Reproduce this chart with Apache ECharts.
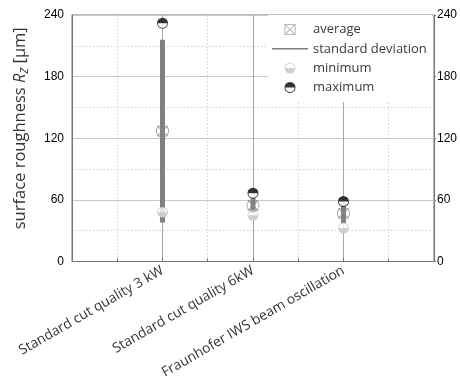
<!DOCTYPE html>
<html><head><meta charset="utf-8">
<script src="https://cdn.jsdelivr.net/npm/echarts@6/dist/echarts.min.js"></script>
<style>html,body{margin:0;padding:0;background:#fff}#c{width:460px;height:386px}</style>
</head><body><div id="c"></div>
<script>
const categories = ['Standard cut quality 3 kW', 'Standard cut quality 6kW', 'Fraunhofer IWS beam oscillation'];
const categoryPos = [2, 4, 6];
const averageVals = [127, 54.5, 47];
const stdDevVals = [89, 7, 10];
const minimumVals = [48, 45, 32.5];
const maximumVals = [232, 66.5, 58.5];
const yTicks = [0, 60, 120, 180, 240];

const FONT = '"Open Sans", "Noto Sans", sans-serif';
const NUMFONT = '"Liberation Sans", Arial, sans-serif';

const ringTopFill = 'path://M-6,0 A6,6 0 0 1 6,0 Z M-6,0 A6,6 0 0 0 6,0 L5.1,0 A5.1,5.1 0 0 1 -5.1,0 Z';
const ringBottomFill = 'path://M-6,0 A6,6 0 0 0 6,0 Z M-6,0 A6,6 0 0 1 6,0 L5.1,0 A5.1,5.1 0 0 0 -5.1,0 Z';
const avgRing = 'path://M-6,0 A6,6 0 0 1 6,0 A6,6 0 0 1 -6,0 Z M-5.2,0 A5.2,5.2 0 0 0 5.2,0 A5.2,5.2 0 0 0 -5.2,0 Z';
const avgCross = 'path://M-5,-4.4 L-4.4,-5 L0,-0.6 L4.4,-5 L5,-4.4 L0.6,0 L5,4.4 L4.4,5 L0,0.6 L-4.4,5 L-5,4.4 L-0.6,0 Z';
const avgLegend = 'path://M-6,-6 L6,-6 L6,6 L-6,6 Z M-5.1,-5.1 L-5.1,5.1 L5.1,5.1 L5.1,-5.1 Z M-5,-4.4 L-4.4,-5 L0,-0.6 L4.4,-5 L5,-4.4 L0.6,0 L5,4.4 L4.4,5 L0,0.6 L-4.4,5 L-5,4.4 L-0.6,0 Z';
const lineLegend = 'path://M0,0 L36,0 L36,1.6 L0,1.6 Z';

const pts = (vals) => vals.map((v, i) => [categoryPos[i], v]);
const sdData = averageVals.map((a, i) => [categoryPos[i], a - stdDevVals[i], a + stdDevVals[i]]);

const chart = echarts.init(document.getElementById('c'), null, {renderer: 'canvas'});
chart.setOption({
  animation: false,
  backgroundColor: '#fff',
  grid: {left: 72, right: 25, top: 15, bottom: 124.5, show: true, borderColor: '#777', borderWidth: 1, backgroundColor: 'transparent'},
  legend: {
    orient: 'vertical', left: 268, top: 15,
    backgroundColor: '#fff', padding: [8, 5, 8, 4],
    itemWidth: 36, itemHeight: 11, itemGap: 6.3,
    textStyle: {fontFamily: FONT, fontSize: 13, color: '#3a3a3a'},
    selectedMode: false,
    data: [
      {name: 'average', icon: avgLegend, itemStyle: {color: '#8a8a8a'}},
      {name: 'standard deviation', icon: lineLegend, itemStyle: {color: '#808080'}},
      {name: 'minimum', icon: ringBottomFill, itemStyle: {color: '#c4c4c4'}},
      {name: 'maximum', icon: ringTopFill, itemStyle: {color: '#000'}}
    ]
  },
  xAxis: {
    type: 'value', min: 0, max: 8, interval: 2,
    axisLine: {show: true, lineStyle: {color: '#777'}},
    axisTick: {show: true, inside: true, length: 4, lineStyle: {color: '#777'}},
    minorTick: {show: true, splitNumber: 2, length: 3, lineStyle: {color: '#777'}},
    splitLine: {show: true, lineStyle: {color: '#a8a8a8', width: 1}},
    minorSplitLine: {show: true, lineStyle: {color: '#d0d0d0', type: [1.5, 2], width: 1}},
    axisLabel: {
      rotate: 30, margin: 8, fontFamily: FONT, fontSize: 13.8, color: '#333',
      formatter: (v) => { const i = categoryPos.indexOf(v); return i >= 0 ? categories[i] : ''; }
    }
  },
  yAxis: [
    {
      type: 'value', min: yTicks[0], max: yTicks[yTicks.length - 1], interval: 60, position: 'left',
      axisLine: {show: true, lineStyle: {color: '#777'}},
      axisTick: {show: false},
      minorTick: {show: false, splitNumber: 2},
      splitLine: {show: true, lineStyle: {color: '#c8c8c8', width: 1}},
      minorSplitLine: {show: true, lineStyle: {color: '#d0d0d0', type: [1.5, 2], width: 1}},
      axisLabel: {margin: 8, fontFamily: NUMFONT, fontSize: 12, color: '#000'},
      name: '{a|surface roughness }{i|R}{s|Z}{a| [µm]}',
      nameLocation: 'middle', nameGap: 42, nameRotate: 90,
      nameTextStyle: {
        fontFamily: FONT, fontSize: 16.5, color: '#333', padding: [0, 0, 0, 20],
        rich: {
          a: {fontFamily: FONT, fontSize: 16.5, color: '#333'},
          i: {fontFamily: FONT, fontSize: 16.5, color: '#333', fontStyle: 'italic'},
          s: {fontFamily: FONT, fontSize: 11, color: '#333', fontStyle: 'italic', padding: [9, 0, 0, 0]}
        }
      }
    },
    {
      type: 'value', min: yTicks[0], max: yTicks[yTicks.length - 1], interval: 60, position: 'right',
      axisLine: {show: true, lineStyle: {color: '#777'}},
      axisTick: {show: true, length: 2, lineStyle: {color: '#777'}},
      splitLine: {show: false},
      axisLabel: {margin: 3, fontFamily: NUMFONT, fontSize: 12, color: '#000'}
    }
  ],
  series: [
    {
      name: 'standard deviation', type: 'custom', itemStyle: {color: '#808080'},
      encode: {x: 0, y: [1, 2]},
      data: sdData,
      renderItem: (params, api) => {
        const lo = api.coord([api.value(0), api.value(1)]);
        const hi = api.coord([api.value(0), api.value(2)]);
        return {type: 'rect', shape: {x: lo[0] - 2.5, y: hi[1], width: 5, height: lo[1] - hi[1]}, style: {fill: '#808080'}};
      },
      z: 2
    },
    {name: 'minBg', type: 'scatter', data: pts(minimumVals), symbol: 'circle', symbolSize: 10, itemStyle: {color: '#fff'}, z: 3, silent: true},
    {name: 'minimum', type: 'scatter', data: pts(minimumVals), symbol: ringBottomFill, symbolSize: 11, itemStyle: {color: '#c4c4c4'}, z: 4},
    {name: 'average', type: 'scatter', data: pts(averageVals), symbol: avgRing, symbolSize: 13, itemStyle: {color: '#8a8a8a'}, z: 5},
    {name: 'avgCross', type: 'scatter', data: pts(averageVals), symbol: avgCross, symbolSize: 11, itemStyle: {color: '#8a8a8a'}, z: 5},
    {name: 'maxBg', type: 'scatter', data: pts(maximumVals), symbol: 'circle', symbolSize: 10, itemStyle: {color: '#fff'}, z: 6, silent: true},
    {name: 'maximum', type: 'scatter', data: pts(maximumVals), symbol: ringTopFill, symbolSize: 11, itemStyle: {color: '#000'}, z: 7}
  ]
});
</script></body></html>
